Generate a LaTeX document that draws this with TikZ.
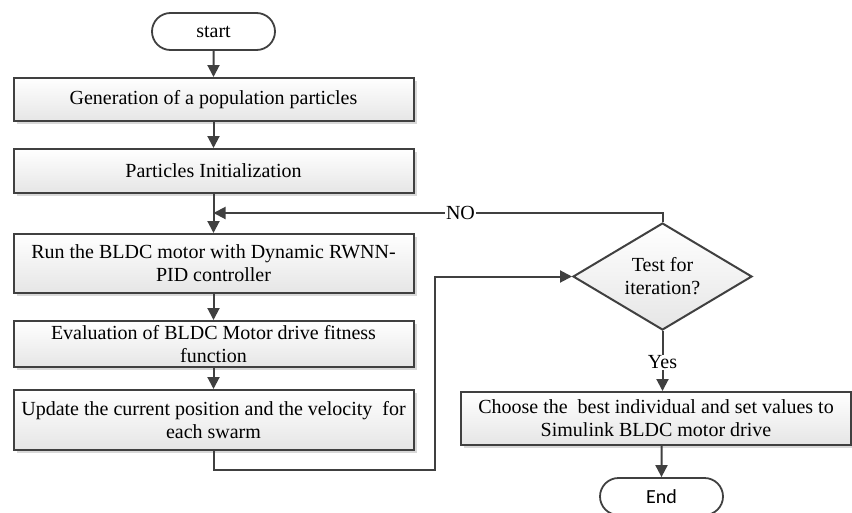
\documentclass[tikz,border=0pt]{standalone}
\usepackage{fontspec}
\setmainfont{Liberation Serif}
\newfontfamily\calib{Carlito}
\usetikzlibrary{shapes.geometric,shapes.misc,shadows,arrows.meta}
\definecolor{lc}{HTML}{404040}
\tikzset{
  every node/.style={font=\fontsize{20}{23}\selectfont},
  procbox/.style={rectangle, draw=lc, line width=2pt, top color=white, bottom color=black!10,
    minimum width=400pt, align=center, inner sep=2pt,
    drop shadow={shadow xshift=3pt, shadow yshift=-3pt, fill=black!30, opacity=0.5}},
  termbox/.style={rounded rectangle, draw=lc, line width=1.8pt, fill=white,
    minimum width=123pt, minimum height=37pt, inner sep=0pt},
  decbox/.style={diamond, draw=lc, line width=2pt, top color=white, bottom color=black!10,
    aspect=1.67, minimum width=179pt, minimum height=107pt, inner sep=0pt, align=center},
  conn/.style={draw=lc, line width=2pt},
  arr/.style={conn, -{Triangle[length=12pt,width=12pt]}},
  lbl/.style={fill=white, inner sep=1pt}
}
\begin{document}
\begin{tikzpicture}[x=1pt,y=-1pt]
\useasboundingbox (0,0) rectangle (852,512);
\node[termbox] (start) at (213.5,31.5) {start};
\node[procbox, minimum height=43pt] (b1) at (213.5,99.5) {Generation of a population particles};
\node[procbox, minimum height=44pt] (b2) at (213.5,171) {Particles Initialization};
\node[procbox, minimum height=59pt] (b3) at (213.5,263.5) {Run the BLDC motor with Dynamic RWNN-\\PID controller};
\node[procbox, minimum height=46pt] (b4) at (213.5,344) {Evaluation of BLDC Motor drive fitness\\function};
\node[procbox, minimum height=60pt] (b5) at (213.5,420) {Update the current position and the velocity\ \ for\\each swarm};
\node[decbox] (d) at (662.5,276.5) {Test for\\iteration?};
\node[procbox, minimum width=390pt, minimum height=53pt] (b6) at (656,418.5) {Choose the\ \ best individual and set values to\\Simulink BLDC motor drive};
\node[termbox] (end) at (661.5,496.5) {\calib End};
\coordinate (fb) at (213.5,213);
\coordinate (lp) at (435,470);

\draw[arr] (start) -- (b1);
\draw[arr] (b1) -- (b2);
\draw[arr] (b2) -- (b3);
\draw[arr] (b3) -- (b4);
\draw[arr] (b4) -- (b5);
\draw[arr] (b5.south) |- (lp) |- (d.west);
\draw[arr] (d.north) -- (d.north |- fb) -- (fb) node[lbl, pos=0.45] {NO};
\draw[arr] (d.south) -- (d.south |- b6.north) node[lbl, pos=0.52] {Yes};
\draw[arr] (b6.south -| end) -- (end);
\end{tikzpicture}
\end{document}
